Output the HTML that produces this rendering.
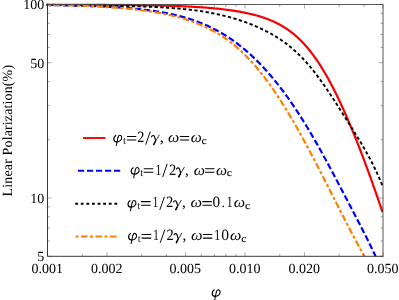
<!DOCTYPE html>
<html><head><meta charset="utf-8"><title>plot</title>
<style>
html,body{margin:0;padding:0;background:#fff;}
svg{display:block;will-change:transform;}
text{font-family:"Liberation Serif",serif;fill:#000;text-rendering:geometricPrecision;}
</style></head><body>
<svg width="399" height="300" viewBox="0 0 399 300">
<rect width="399" height="300" fill="#fff"/>
<defs><clipPath id="c"><rect x="46.4" y="3.6" width="336.6" height="252.7"/></clipPath></defs>

<g clip-path="url(#c)" fill="none" stroke-width="2.2">
<path d="M46.3 4.55 L47.5 4.55 L48.5 4.55 L49.5 4.55 L50.5 4.54 L51.5 4.54 L52.5 4.54 L53.5 4.54 L54.5 4.54 L55.5 4.54 L56.5 4.54 L57.5 4.54 L58.5 4.54 L59.5 4.54 L60.5 4.54 L61.5 4.54 L62.5 4.54 L63.5 4.54 L64.5 4.54 L65.5 4.54 L66.5 4.54 L67.5 4.55 L68.5 4.55 L69.5 4.55 L70.5 4.55 L71.5 4.55 L72.5 4.55 L73.5 4.56 L74.5 4.56 L75.5 4.56 L76.5 4.56 L77.5 4.57 L78.5 4.57 L79.5 4.57 L80.5 4.58 L81.5 4.58 L82.5 4.58 L83.5 4.59 L84.5 4.59 L85.5 4.59 L86.5 4.60 L87.5 4.60 L88.5 4.61 L89.5 4.61 L90.5 4.62 L91.5 4.62 L92.5 4.63 L93.5 4.63 L94.5 4.64 L95.5 4.64 L96.5 4.65 L97.5 4.66 L98.5 4.66 L99.5 4.67 L100.5 4.68 L101.5 4.68 L102.5 4.69 L103.5 4.70 L104.5 4.70 L105.5 4.71 L106.5 4.72 L107.5 4.73 L108.5 4.74 L109.5 4.74 L110.5 4.75 L111.5 4.76 L112.5 4.77 L113.5 4.78 L114.5 4.79 L115.5 4.80 L116.5 4.81 L117.5 4.82 L118.5 4.83 L119.5 4.84 L120.5 4.85 L121.5 4.86 L122.5 4.87 L123.5 4.88 L124.5 4.89 L125.5 4.91 L126.5 4.92 L127.5 4.93 L128.5 4.94 L129.5 4.96 L130.5 4.97 L131.5 4.98 L132.5 5.00 L133.5 5.01 L134.5 5.02 L135.5 5.04 L136.5 5.05 L137.5 5.07 L138.5 5.08 L139.5 5.10 L140.5 5.12 L141.5 5.13 L142.5 5.15 L143.5 5.17 L144.5 5.19 L145.5 5.20 L146.5 5.22 L147.5 5.24 L148.5 5.26 L149.5 5.28 L150.5 5.30 L151.5 5.32 L152.5 5.34 L153.5 5.36 L154.5 5.39 L155.5 5.41 L156.5 5.43 L157.5 5.46 L158.5 5.48 L159.5 5.50 L160.5 5.53 L161.5 5.55 L162.5 5.58 L163.5 5.61 L164.5 5.64 L165.5 5.66 L166.5 5.69 L167.5 5.72 L168.5 5.75 L169.5 5.78 L170.5 5.82 L171.5 5.85 L172.5 5.88 L173.5 5.91 L174.5 5.95 L175.5 5.99 L176.5 6.02 L177.5 6.06 L178.5 6.10 L179.5 6.14 L180.5 6.18 L181.5 6.22 L182.5 6.26 L183.5 6.30 L184.5 6.35 L185.5 6.39 L186.5 6.44 L187.5 6.49 L188.5 6.54 L189.5 6.59 L190.5 6.64 L191.5 6.69 L192.5 6.75 L193.5 6.80 L194.5 6.86 L195.5 6.92 L196.5 6.98 L197.5 7.04 L198.5 7.10 L199.5 7.17 L200.5 7.24 L201.5 7.31 L202.5 7.38 L203.5 7.45 L204.5 7.52 L205.5 7.60 L206.5 7.68 L207.5 7.76 L208.5 7.84 L209.5 7.92 L210.5 8.01 L211.5 8.10 L212.5 8.19 L213.5 8.28 L214.5 8.38 L215.5 8.48 L216.5 8.57 L217.5 8.68 L218.5 8.78 L219.5 8.89 L220.5 9.00 L221.5 9.11 L222.5 9.23 L223.5 9.34 L224.5 9.47 L225.5 9.59 L226.5 9.72 L227.5 9.85 L228.5 9.98 L229.5 10.12 L230.5 10.26 L231.5 10.40 L232.5 10.55 L233.5 10.70 L234.5 10.85 L235.5 11.01 L236.5 11.17 L237.5 11.34 L238.5 11.51 L239.5 11.69 L240.5 11.87 L241.5 12.05 L242.5 12.24 L243.5 12.44 L244.5 12.64 L245.5 12.84 L246.5 13.05 L247.5 13.27 L248.5 13.49 L249.5 13.72 L250.5 13.95 L251.5 14.19 L252.5 14.44 L253.5 14.69 L254.5 14.95 L255.5 15.21 L256.5 15.49 L257.5 15.77 L258.5 16.06 L259.5 16.36 L260.5 16.66 L261.5 16.98 L262.5 17.30 L263.5 17.63 L264.5 17.97 L265.5 18.32 L266.5 18.68 L267.5 19.06 L268.5 19.44 L269.5 19.84 L270.5 20.24 L271.5 20.66 L272.5 21.10 L273.5 21.54 L274.5 22.00 L275.5 22.47 L276.5 22.96 L277.5 23.47 L278.5 23.98 L279.5 24.52 L280.5 25.07 L281.5 25.64 L282.5 26.22 L283.5 26.83 L284.5 27.45 L285.5 28.09 L286.5 28.75 L287.5 29.43 L288.5 30.12 L289.5 30.84 L290.5 31.58 L291.5 32.35 L292.5 33.13 L293.5 33.94 L294.5 34.77 L295.5 35.62 L296.5 36.50 L297.5 37.40 L298.5 38.32 L299.5 39.27 L300.5 40.25 L301.5 41.25 L302.5 42.28 L303.5 43.34 L304.5 44.42 L305.5 45.54 L306.5 46.68 L307.5 47.84 L308.5 49.04 L309.5 50.27 L310.5 51.53 L311.5 52.81 L312.5 54.13 L313.5 55.48 L314.5 56.86 L315.5 58.26 L316.5 59.70 L317.5 61.17 L318.5 62.67 L319.5 64.20 L320.5 65.76 L321.5 67.35 L322.5 68.97 L323.5 70.62 L324.5 72.30 L325.5 74.01 L326.5 75.74 L327.5 77.51 L328.5 79.31 L329.5 81.14 L330.5 82.99 L331.5 84.88 L332.5 86.79 L333.5 88.73 L334.5 90.70 L335.5 92.70 L336.5 94.73 L337.5 96.78 L338.5 98.86 L339.5 100.97 L340.5 103.10 L341.5 105.26 L342.5 107.45 L343.5 109.66 L344.5 111.89 L345.5 114.15 L346.5 116.44 L347.5 118.74 L348.5 121.08 L349.5 123.43 L350.5 125.81 L351.5 128.21 L352.5 130.63 L353.5 133.07 L354.5 135.53 L355.5 138.02 L356.5 140.52 L357.5 143.05 L358.5 145.60 L359.5 148.17 L360.5 150.75 L361.5 153.36 L362.5 155.98 L363.5 158.63 L364.5 161.29 L365.5 163.97 L366.5 166.67 L367.5 169.39 L368.5 172.13 L369.5 174.88 L370.5 177.65 L371.5 180.43 L372.5 183.23 L373.5 186.05 L374.5 188.88 L375.5 191.73 L376.5 194.59 L377.5 197.47 L378.5 200.36 L379.5 203.26 L380.5 206.18 L381.5 209.12 L382.5 212.06" stroke="#f80000"/>
<path d="M46.3 4.98 L47.5 5.00 L48.5 5.02 L49.5 5.03 L50.5 5.05 L51.5 5.07 L52.5 5.09 L53.5 5.10 L54.5 5.12 L55.5 5.14 L56.5 5.16 L57.5 5.18 L58.5 5.20 L59.5 5.22 L60.5 5.24 L61.5 5.26 L62.5 5.28 L63.5 5.30 L64.5 5.32 L65.5 5.34 L66.5 5.36 L67.5 5.38 L68.5 5.41 L69.5 5.43 L70.5 5.45 L71.5 5.48 L72.5 5.50 L73.5 5.53 L74.5 5.55 L75.5 5.58 L76.5 5.60 L77.5 5.63 L78.5 5.66 L79.5 5.69 L80.5 5.72 L81.5 5.74 L82.5 5.77 L83.5 5.80 L84.5 5.83 L85.5 5.87 L86.5 5.90 L87.5 5.93 L88.5 5.96 L89.5 6.00 L90.5 6.03 L91.5 6.07 L92.5 6.11 L93.5 6.14 L94.5 6.18 L95.5 6.22 L96.5 6.26 L97.5 6.30 L98.5 6.34 L99.5 6.38 L100.5 6.43 L101.5 6.47 L102.5 6.52 L103.5 6.56 L104.5 6.61 L105.5 6.66 L106.5 6.71 L107.5 6.76 L108.5 6.81 L109.5 6.86 L110.5 6.92 L111.5 6.97 L112.5 7.03 L113.5 7.09 L114.5 7.15 L115.5 7.21 L116.5 7.27 L117.5 7.34 L118.5 7.40 L119.5 7.47 L120.5 7.54 L121.5 7.60 L122.5 7.68 L123.5 7.75 L124.5 7.82 L125.5 7.90 L126.5 7.98 L127.5 8.06 L128.5 8.14 L129.5 8.22 L130.5 8.31 L131.5 8.40 L132.5 8.49 L133.5 8.58 L134.5 8.67 L135.5 8.77 L136.5 8.87 L137.5 8.97 L138.5 9.07 L139.5 9.17 L140.5 9.28 L141.5 9.39 L142.5 9.50 L143.5 9.62 L144.5 9.74 L145.5 9.86 L146.5 9.98 L147.5 10.11 L148.5 10.24 L149.5 10.37 L150.5 10.50 L151.5 10.64 L152.5 10.78 L153.5 10.93 L154.5 11.07 L155.5 11.22 L156.5 11.38 L157.5 11.54 L158.5 11.70 L159.5 11.86 L160.5 12.03 L161.5 12.20 L162.5 12.38 L163.5 12.56 L164.5 12.75 L165.5 12.93 L166.5 13.13 L167.5 13.32 L168.5 13.52 L169.5 13.73 L170.5 13.94 L171.5 14.15 L172.5 14.37 L173.5 14.60 L174.5 14.83 L175.5 15.06 L176.5 15.30 L177.5 15.54 L178.5 15.79 L179.5 16.05 L180.5 16.31 L181.5 16.58 L182.5 16.85 L183.5 17.13 L184.5 17.41 L185.5 17.70 L186.5 17.99 L187.5 18.29 L188.5 18.60 L189.5 18.92 L190.5 19.24 L191.5 19.57 L192.5 19.90 L193.5 20.24 L194.5 20.59 L195.5 20.94 L196.5 21.31 L197.5 21.68 L198.5 22.05 L199.5 22.44 L200.5 22.83 L201.5 23.23 L202.5 23.64 L203.5 24.05 L204.5 24.48 L205.5 24.91 L206.5 25.35 L207.5 25.80 L208.5 26.26 L209.5 26.73 L210.5 27.20 L211.5 27.68 L212.5 28.18 L213.5 28.68 L214.5 29.19 L215.5 29.71 L216.5 30.24 L217.5 30.78 L218.5 31.33 L219.5 31.89 L220.5 32.46 L221.5 33.04 L222.5 33.63 L223.5 34.23 L224.5 34.84 L225.5 35.46 L226.5 36.09 L227.5 36.73 L228.5 37.38 L229.5 38.05 L230.5 38.72 L231.5 39.40 L232.5 40.10 L233.5 40.81 L234.5 41.52 L235.5 42.25 L236.5 43.00 L237.5 43.75 L238.5 44.51 L239.5 45.29 L240.5 46.08 L241.5 46.87 L242.5 47.69 L243.5 48.51 L244.5 49.34 L245.5 50.19 L246.5 51.05 L247.5 51.92 L248.5 52.81 L249.5 53.70 L250.5 54.61 L251.5 55.53 L252.5 56.47 L253.5 57.41 L254.5 58.37 L255.5 59.34 L256.5 60.32 L257.5 61.32 L258.5 62.33 L259.5 63.35 L260.5 64.38 L261.5 65.43 L262.5 66.49 L263.5 67.56 L264.5 68.65 L265.5 69.74 L266.5 70.85 L267.5 71.98 L268.5 73.11 L269.5 74.26 L270.5 75.43 L271.5 76.60 L272.5 77.79 L273.5 79.00 L274.5 80.21 L275.5 81.44 L276.5 82.68 L277.5 83.94 L278.5 85.21 L279.5 86.49 L280.5 87.79 L281.5 89.10 L282.5 90.42 L283.5 91.75 L284.5 93.10 L285.5 94.47 L286.5 95.84 L287.5 97.23 L288.5 98.63 L289.5 100.05 L290.5 101.48 L291.5 102.92 L292.5 104.38 L293.5 105.85 L294.5 107.33 L295.5 108.82 L296.5 110.33 L297.5 111.85 L298.5 113.39 L299.5 114.93 L300.5 116.49 L301.5 118.07 L302.5 119.65 L303.5 121.25 L304.5 122.86 L305.5 124.48 L306.5 126.12 L307.5 127.77 L308.5 129.43 L309.5 131.10 L310.5 132.79 L311.5 134.49 L312.5 136.20 L313.5 137.92 L314.5 139.65 L315.5 141.39 L316.5 143.15 L317.5 144.91 L318.5 146.68 L319.5 148.47 L320.5 150.26 L321.5 152.06 L322.5 153.87 L323.5 155.68 L324.5 157.51 L325.5 159.34 L326.5 161.18 L327.5 163.03 L328.5 164.88 L329.5 166.74 L330.5 168.60 L331.5 170.47 L332.5 172.35 L333.5 174.23 L334.5 176.11 L335.5 178.00 L336.5 179.89 L337.5 181.79 L338.5 183.69 L339.5 185.59 L340.5 187.49 L341.5 189.40 L342.5 191.31 L343.5 193.22 L344.5 195.13 L345.5 197.04 L346.5 198.95 L347.5 200.86 L348.5 202.77 L349.5 204.68 L350.5 206.59 L351.5 208.50 L352.5 210.41 L353.5 212.33 L354.5 214.24 L355.5 216.15 L356.5 218.07 L357.5 219.99 L358.5 221.92 L359.5 223.85 L360.5 225.79 L361.5 227.74 L362.5 229.69 L363.5 231.65 L364.5 233.62 L365.5 235.60 L366.5 237.59 L367.5 239.60 L368.5 241.61 L369.5 243.64 L370.5 245.68 L371.5 247.74 L372.5 249.81 L373.5 251.90 L374.5 254.00 L375.5 256.12 L376.5 258.20 L377.5 260.27" stroke="#0000ff" stroke-dasharray="6.2 2.8" stroke-dashoffset="1.1"/>
<path d="M46.3 4.55 L47.5 4.55 L48.5 4.58 L49.5 4.61 L50.5 4.64 L51.5 4.67 L52.5 4.70 L53.5 4.72 L54.5 4.75 L55.5 4.78 L56.5 4.80 L57.5 4.83 L58.5 4.85 L59.5 4.87 L60.5 4.90 L61.5 4.92 L62.5 4.94 L63.5 4.97 L64.5 4.99 L65.5 5.01 L66.5 5.03 L67.5 5.05 L68.5 5.07 L69.5 5.09 L70.5 5.11 L71.5 5.13 L72.5 5.15 L73.5 5.17 L74.5 5.19 L75.5 5.20 L76.5 5.22 L77.5 5.24 L78.5 5.26 L79.5 5.27 L80.5 5.29 L81.5 5.31 L82.5 5.32 L83.5 5.34 L84.5 5.36 L85.5 5.37 L86.5 5.39 L87.5 5.40 L88.5 5.42 L89.5 5.44 L90.5 5.45 L91.5 5.47 L92.5 5.48 L93.5 5.50 L94.5 5.51 L95.5 5.53 L96.5 5.54 L97.5 5.56 L98.5 5.57 L99.5 5.59 L100.5 5.60 L101.5 5.62 L102.5 5.63 L103.5 5.65 L104.5 5.66 L105.5 5.68 L106.5 5.69 L107.5 5.71 L108.5 5.73 L109.5 5.74 L110.5 5.76 L111.5 5.77 L112.5 5.79 L113.5 5.81 L114.5 5.83 L115.5 5.84 L116.5 5.86 L117.5 5.88 L118.5 5.90 L119.5 5.92 L120.5 5.94 L121.5 5.96 L122.5 5.98 L123.5 6.00 L124.5 6.02 L125.5 6.04 L126.5 6.06 L127.5 6.08 L128.5 6.11 L129.5 6.13 L130.5 6.15 L131.5 6.18 L132.5 6.20 L133.5 6.23 L134.5 6.26 L135.5 6.28 L136.5 6.31 L137.5 6.34 L138.5 6.37 L139.5 6.40 L140.5 6.43 L141.5 6.47 L142.5 6.50 L143.5 6.53 L144.5 6.57 L145.5 6.60 L146.5 6.64 L147.5 6.68 L148.5 6.72 L149.5 6.76 L150.5 6.80 L151.5 6.84 L152.5 6.88 L153.5 6.93 L154.5 6.97 L155.5 7.02 L156.5 7.07 L157.5 7.12 L158.5 7.17 L159.5 7.22 L160.5 7.28 L161.5 7.33 L162.5 7.39 L163.5 7.45 L164.5 7.51 L165.5 7.57 L166.5 7.63 L167.5 7.70 L168.5 7.76 L169.5 7.83 L170.5 7.90 L171.5 7.98 L172.5 8.05 L173.5 8.13 L174.5 8.20 L175.5 8.28 L176.5 8.37 L177.5 8.45 L178.5 8.54 L179.5 8.63 L180.5 8.72 L181.5 8.81 L182.5 8.91 L183.5 9.01 L184.5 9.11 L185.5 9.21 L186.5 9.32 L187.5 9.43 L188.5 9.54 L189.5 9.65 L190.5 9.77 L191.5 9.89 L192.5 10.02 L193.5 10.14 L194.5 10.27 L195.5 10.41 L196.5 10.54 L197.5 10.68 L198.5 10.82 L199.5 10.97 L200.5 11.12 L201.5 11.27 L202.5 11.43 L203.5 11.59 L204.5 11.76 L205.5 11.93 L206.5 12.10 L207.5 12.27 L208.5 12.45 L209.5 12.64 L210.5 12.82 L211.5 13.02 L212.5 13.21 L213.5 13.41 L214.5 13.61 L215.5 13.82 L216.5 14.03 L217.5 14.25 L218.5 14.47 L219.5 14.69 L220.5 14.92 L221.5 15.15 L222.5 15.39 L223.5 15.63 L224.5 15.88 L225.5 16.13 L226.5 16.39 L227.5 16.65 L228.5 16.91 L229.5 17.18 L230.5 17.46 L231.5 17.74 L232.5 18.02 L233.5 18.31 L234.5 18.61 L235.5 18.91 L236.5 19.22 L237.5 19.53 L238.5 19.84 L239.5 20.17 L240.5 20.50 L241.5 20.83 L242.5 21.17 L243.5 21.52 L244.5 21.87 L245.5 22.22 L246.5 22.59 L247.5 22.96 L248.5 23.34 L249.5 23.72 L250.5 24.11 L251.5 24.50 L252.5 24.91 L253.5 25.32 L254.5 25.73 L255.5 26.15 L256.5 26.58 L257.5 27.02 L258.5 27.47 L259.5 27.92 L260.5 28.38 L261.5 28.85 L262.5 29.32 L263.5 29.80 L264.5 30.29 L265.5 30.80 L266.5 31.30 L267.5 31.82 L268.5 32.35 L269.5 32.89 L270.5 33.44 L271.5 34.00 L272.5 34.57 L273.5 35.15 L274.5 35.75 L275.5 36.35 L276.5 36.97 L277.5 37.60 L278.5 38.24 L279.5 38.89 L280.5 39.56 L281.5 40.25 L282.5 40.94 L283.5 41.65 L284.5 42.38 L285.5 43.12 L286.5 43.87 L287.5 44.64 L288.5 45.42 L289.5 46.23 L290.5 47.04 L291.5 47.88 L292.5 48.73 L293.5 49.59 L294.5 50.48 L295.5 51.38 L296.5 52.30 L297.5 53.23 L298.5 54.19 L299.5 55.16 L300.5 56.16 L301.5 57.17 L302.5 58.20 L303.5 59.25 L304.5 60.32 L305.5 61.41 L306.5 62.52 L307.5 63.65 L308.5 64.80 L309.5 65.97 L310.5 67.16 L311.5 68.37 L312.5 69.61 L313.5 70.86 L314.5 72.13 L315.5 73.42 L316.5 74.73 L317.5 76.06 L318.5 77.40 L319.5 78.76 L320.5 80.14 L321.5 81.53 L322.5 82.94 L323.5 84.36 L324.5 85.79 L325.5 87.24 L326.5 88.70 L327.5 90.17 L328.5 91.66 L329.5 93.15 L330.5 94.66 L331.5 96.18 L332.5 97.70 L333.5 99.24 L334.5 100.78 L335.5 102.33 L336.5 103.88 L337.5 105.44 L338.5 107.01 L339.5 108.58 L340.5 110.16 L341.5 111.74 L342.5 113.32 L343.5 114.91 L344.5 116.50 L345.5 118.09 L346.5 119.68 L347.5 121.26 L348.5 122.85 L349.5 124.44 L350.5 126.03 L351.5 127.61 L352.5 129.19 L353.5 130.78 L354.5 132.37 L355.5 133.96 L356.5 135.57 L357.5 137.18 L358.5 138.80 L359.5 140.44 L360.5 142.09 L361.5 143.76 L362.5 145.44 L363.5 147.15 L364.5 148.88 L365.5 150.63 L366.5 152.41 L367.5 154.21 L368.5 156.04 L369.5 157.91 L370.5 159.81 L371.5 161.74 L372.5 163.70 L373.5 165.71 L374.5 167.75 L375.5 169.84 L376.5 171.97 L377.5 174.15 L378.5 176.37 L379.5 178.64 L380.5 180.96 L381.5 183.33 L382.5 185.76" stroke="#000000" stroke-dasharray="3.3 2.4" stroke-width="1.9"/>
<path d="M46.3 5.03 L47.5 5.04 L48.5 5.04 L49.5 5.04 L50.5 5.04 L51.5 5.04 L52.5 5.05 L53.5 5.05 L54.5 5.06 L55.5 5.07 L56.5 5.08 L57.5 5.09 L58.5 5.10 L59.5 5.11 L60.5 5.13 L61.5 5.14 L62.5 5.16 L63.5 5.17 L64.5 5.19 L65.5 5.21 L66.5 5.23 L67.5 5.25 L68.5 5.28 L69.5 5.30 L70.5 5.33 L71.5 5.35 L72.5 5.38 L73.5 5.41 L74.5 5.44 L75.5 5.47 L76.5 5.50 L77.5 5.53 L78.5 5.56 L79.5 5.60 L80.5 5.63 L81.5 5.67 L82.5 5.71 L83.5 5.75 L84.5 5.79 L85.5 5.83 L86.5 5.87 L87.5 5.91 L88.5 5.96 L89.5 6.00 L90.5 6.05 L91.5 6.10 L92.5 6.15 L93.5 6.20 L94.5 6.25 L95.5 6.30 L96.5 6.35 L97.5 6.41 L98.5 6.46 L99.5 6.52 L100.5 6.58 L101.5 6.64 L102.5 6.70 L103.5 6.76 L104.5 6.82 L105.5 6.89 L106.5 6.95 L107.5 7.02 L108.5 7.09 L109.5 7.16 L110.5 7.23 L111.5 7.30 L112.5 7.37 L113.5 7.45 L114.5 7.53 L115.5 7.60 L116.5 7.68 L117.5 7.76 L118.5 7.85 L119.5 7.93 L120.5 8.02 L121.5 8.10 L122.5 8.19 L123.5 8.28 L124.5 8.38 L125.5 8.47 L126.5 8.56 L127.5 8.66 L128.5 8.76 L129.5 8.86 L130.5 8.97 L131.5 9.07 L132.5 9.18 L133.5 9.29 L134.5 9.40 L135.5 9.51 L136.5 9.63 L137.5 9.75 L138.5 9.87 L139.5 9.99 L140.5 10.11 L141.5 10.24 L142.5 10.37 L143.5 10.50 L144.5 10.64 L145.5 10.77 L146.5 10.91 L147.5 11.06 L148.5 11.20 L149.5 11.35 L150.5 11.50 L151.5 11.66 L152.5 11.81 L153.5 11.97 L154.5 12.14 L155.5 12.31 L156.5 12.48 L157.5 12.65 L158.5 12.83 L159.5 13.01 L160.5 13.19 L161.5 13.38 L162.5 13.58 L163.5 13.77 L164.5 13.97 L165.5 14.18 L166.5 14.39 L167.5 14.60 L168.5 14.82 L169.5 15.04 L170.5 15.27 L171.5 15.50 L172.5 15.73 L173.5 15.97 L174.5 16.22 L175.5 16.47 L176.5 16.73 L177.5 16.99 L178.5 17.26 L179.5 17.53 L180.5 17.81 L181.5 18.09 L182.5 18.39 L183.5 18.68 L184.5 18.98 L185.5 19.29 L186.5 19.61 L187.5 19.93 L188.5 20.26 L189.5 20.60 L190.5 20.94 L191.5 21.29 L192.5 21.64 L193.5 22.01 L194.5 22.38 L195.5 22.76 L196.5 23.14 L197.5 23.54 L198.5 23.94 L199.5 24.35 L200.5 24.77 L201.5 25.20 L202.5 25.63 L203.5 26.08 L204.5 26.53 L205.5 27.00 L206.5 27.47 L207.5 27.95 L208.5 28.44 L209.5 28.95 L210.5 29.46 L211.5 29.98 L212.5 30.52 L213.5 31.06 L214.5 31.62 L215.5 32.19 L216.5 32.76 L217.5 33.36 L218.5 33.96 L219.5 34.57 L220.5 35.20 L221.5 35.84 L222.5 36.49 L223.5 37.16 L224.5 37.84 L225.5 38.53 L226.5 39.24 L227.5 39.96 L228.5 40.69 L229.5 41.44 L230.5 42.20 L231.5 42.97 L232.5 43.76 L233.5 44.57 L234.5 45.39 L235.5 46.22 L236.5 47.07 L237.5 47.94 L238.5 48.82 L239.5 49.71 L240.5 50.62 L241.5 51.55 L242.5 52.49 L243.5 53.45 L244.5 54.42 L245.5 55.41 L246.5 56.42 L247.5 57.44 L248.5 58.48 L249.5 59.54 L250.5 60.61 L251.5 61.70 L252.5 62.80 L253.5 63.93 L254.5 65.07 L255.5 66.22 L256.5 67.39 L257.5 68.58 L258.5 69.79 L259.5 71.01 L260.5 72.25 L261.5 73.51 L262.5 74.78 L263.5 76.07 L264.5 77.38 L265.5 78.70 L266.5 80.04 L267.5 81.40 L268.5 82.77 L269.5 84.16 L270.5 85.56 L271.5 86.98 L272.5 88.42 L273.5 89.87 L274.5 91.33 L275.5 92.81 L276.5 94.31 L277.5 95.82 L278.5 97.34 L279.5 98.88 L280.5 100.44 L281.5 102.00 L282.5 103.58 L283.5 105.18 L284.5 106.78 L285.5 108.40 L286.5 110.04 L287.5 111.69 L288.5 113.34 L289.5 115.02 L290.5 116.70 L291.5 118.40 L292.5 120.10 L293.5 121.82 L294.5 123.55 L295.5 125.30 L296.5 127.05 L297.5 128.81 L298.5 130.59 L299.5 132.37 L300.5 134.17 L301.5 135.97 L302.5 137.79 L303.5 139.61 L304.5 141.45 L305.5 143.29 L306.5 145.14 L307.5 147.00 L308.5 148.87 L309.5 150.75 L310.5 152.64 L311.5 154.53 L312.5 156.43 L313.5 158.34 L314.5 160.26 L315.5 162.18 L316.5 164.10 L317.5 166.04 L318.5 167.98 L319.5 169.92 L320.5 171.87 L321.5 173.82 L322.5 175.78 L323.5 177.73 L324.5 179.70 L325.5 181.66 L326.5 183.63 L327.5 185.60 L328.5 187.57 L329.5 189.54 L330.5 191.51 L331.5 193.49 L332.5 195.46 L333.5 197.43 L334.5 199.40 L335.5 201.38 L336.5 203.35 L337.5 205.31 L338.5 207.28 L339.5 209.25 L340.5 211.21 L341.5 213.17 L342.5 215.12 L343.5 217.07 L344.5 219.02 L345.5 220.96 L346.5 222.90 L347.5 224.84 L348.5 226.77 L349.5 228.69 L350.5 230.60 L351.5 232.52 L352.5 234.42 L353.5 236.32 L354.5 238.21 L355.5 240.09 L356.5 241.96 L357.5 243.83 L358.5 245.69 L359.5 247.54 L360.5 249.38 L361.5 251.21 L362.5 253.03 L363.5 254.84 L364.5 256.70 L365.5 258.80 L366.5 260.89" stroke="#ff8000" stroke-dasharray="6.6 2.45 3 2.45" stroke-dashoffset="7.5"/>
</g>
<path d="M47.5 4.50h4 M383.0 4.50h-4 M47.5 62.76h4 M383.0 62.76h-4 M47.5 198.04h4 M383.0 198.04h-4 M47.5 256.30h4 M383.0 256.30h-4 M47.5 13.36h2.5 M383.0 13.36h-2.5 M47.5 23.26h2.5 M383.0 23.26h-2.5 M47.5 34.48h2.5 M383.0 34.48h-2.5 M47.5 47.44h2.5 M383.0 47.44h-2.5 M47.5 81.52h2.5 M383.0 81.52h-2.5 M47.5 105.70h2.5 M383.0 105.70h-2.5 M47.5 139.78h2.5 M383.0 139.78h-2.5 M47.5 206.89h2.5 M383.0 206.89h-2.5 M47.5 216.79h2.5 M383.0 216.79h-2.5 M47.5 228.02h2.5 M383.0 228.02h-2.5 M47.5 240.98h2.5 M383.0 240.98h-2.5 M47.50 256.3v-4 M47.50 4.5v4 M106.95 256.3v-4 M106.95 4.5v4 M185.55 256.3v-4 M185.55 4.5v4 M245.00 256.3v-4 M245.00 4.5v4 M304.45 256.3v-4 M304.45 4.5v4 M383.05 256.3v-4 M383.05 4.5v4 M82.28 256.3v-2.5 M82.28 4.5v2.5 M141.73 256.3v-2.5 M141.73 4.5v2.5 M166.41 256.3v-2.5 M166.41 4.5v2.5 M201.18 256.3v-2.5 M201.18 4.5v2.5 M214.41 256.3v-2.5 M214.41 4.5v2.5 M225.86 256.3v-2.5 M225.86 4.5v2.5 M235.96 256.3v-2.5 M235.96 4.5v2.5 M279.78 256.3v-2.5 M279.78 4.5v2.5 M339.23 256.3v-2.5 M339.23 4.5v2.5 M363.91 256.3v-2.5 M363.91 4.5v2.5" stroke="#555" stroke-width="0.5" fill="none"/>
<path d="M47.5 4.5 H383.0 V256.3" stroke="#444" stroke-width="0.9" fill="none"/>
<path d="M47.5 4.1 V256.3 H383.4" stroke="#222" stroke-width="0.9" fill="none"/>
<g>
<g font-size="14">
<text x="44.2" y="9.4" text-anchor="end">100</text>
<text x="44.2" y="67.7" text-anchor="end">50</text>
<text x="44.2" y="202.9" text-anchor="end">10</text>
<text x="44.2" y="261.2" text-anchor="end">5</text>
<text x="47.2" y="272.6" text-anchor="middle">0.001</text>
<text x="106.7" y="272.6" text-anchor="middle">0.002</text>
<text x="185.2" y="272.6" text-anchor="middle">0.005</text>
<text x="244.7" y="272.6" text-anchor="middle">0.010</text>
<text x="304.2" y="272.6" text-anchor="middle">0.020</text>
<text x="382.7" y="272.6" text-anchor="middle">0.050</text>
</g>
<text font-size="14" transform="translate(11.6,196.4) rotate(-90)" textLength="131.5" lengthAdjust="spacing">Linear Polarization(%)</text>
<g fill="none" stroke-width="1.9">
<path d="M82.9 138.0H105.4" stroke="#f80000"/>
<path d="M78.0 170.8H120.2" stroke="#0000ff" stroke-dasharray="6.2 2.8"/>
<path d="M75.2 203.7H117.4" stroke="#000" stroke-dasharray="2.8 2.8"/>
<path d="M75.6 236.5H117.0" stroke="#ff8000" stroke-dasharray="6.6 2.4 3 2.4" stroke-dashoffset="9"/>
</g>
<g transform="translate(98.40,154.60)" fill="none" stroke="#000" stroke-linecap="round" stroke-linejoin="round"><path d="M115.7 135.3C114.3 136.3 113.75 137.6 113.8 138.8C113.9 140.6 115.1 141.75 116.9 141.75" stroke-width="1.2"/><path d="M116.9 141.75C119.5 141.75 121.7 139.8 121.75 137.7C121.8 136.0 120.8 135.05 119.7 135.05C118.6 135.05 118.2 136.0 117.9 137.5" stroke-width="1.05"/><path d="M117.9 137.5L116.3 145.3" stroke-width="1.0"/></g>
<g transform="translate(0.00,0.20)" fill="none" stroke="#000" stroke-linecap="round" stroke-linejoin="round"><path d="M115.7 135.3C114.3 136.3 113.75 137.6 113.8 138.8C113.9 140.6 115.1 141.75 116.9 141.75" stroke-width="1.2"/><path d="M116.9 141.75C119.5 141.75 121.7 139.8 121.75 137.7C121.8 136.0 120.8 135.05 119.7 135.05C118.6 135.05 118.2 136.0 117.9 137.5" stroke-width="1.05"/><path d="M117.9 137.5L116.3 145.3" stroke-width="1.0"/></g>
<text stroke="#000" stroke-width="0.12" transform="translate(123.22,143.60) scale(0.799,1)" font-size="10.5">t</text>
<path d="M126.90 136.40H136.30 M126.90 140.00H136.30" stroke="#000" stroke-width="1.05" fill="none"/>
<text transform="translate(137.33,142.20) scale(0.906,1)" font-size="15.7">2</text>
<path d="M145.70 144.70L150.30 131.50" stroke="#000" stroke-width="0.95" fill="none"/>
<g transform="translate(151.20,142.20)" fill="none" stroke="#000" stroke-linecap="round"><path d="M0.3 -5.5C0.9 -6.9 2.5 -7.2 3.2 -5.6C3.8 -4.2 4.2 -2.7 4.5 -1.2" stroke-width="1.15"/><path d="M8.0 -7.1C6.8 -4.7 5.3 -2.7 4.4 -1.2C3.4 0.6 2.9 1.5 2.6 2.4" stroke-width="0.85"/><path d="M3.9 -0.3L2.6 2.3" stroke-width="1.5"/></g>
<text transform="translate(159.71,142.20) scale(1.069,1)" font-size="15.7">,</text>
<text transform="translate(168.02,142.20) scale(1.060,1)" font-size="15" font-style="italic">&#969;</text>
<path d="M179.90 136.40H189.10 M179.90 140.00H189.10" stroke="#000" stroke-width="1.05" fill="none"/>
<text transform="translate(190.63,142.20) scale(1.039,1)" font-size="15" font-style="italic">&#969;</text>
<text stroke="#000" stroke-width="0.12" transform="translate(201.45,143.60) scale(1.117,1)" font-size="10.5">c</text>
<g transform="translate(17.40,32.50)" fill="none" stroke="#000" stroke-linecap="round" stroke-linejoin="round"><path d="M115.7 135.3C114.3 136.3 113.75 137.6 113.8 138.8C113.9 140.6 115.1 141.75 116.9 141.75" stroke-width="1.2"/><path d="M116.9 141.75C119.5 141.75 121.7 139.8 121.75 137.7C121.8 136.0 120.8 135.05 119.7 135.05C118.6 135.05 118.2 136.0 117.9 137.5" stroke-width="1.05"/><path d="M117.9 137.5L116.3 145.3" stroke-width="1.0"/></g>
<text stroke="#000" stroke-width="0.12" transform="translate(140.62,175.90) scale(0.799,1)" font-size="10.5">t</text>
<path d="M143.70 168.70H153.30 M143.70 172.30H153.30" stroke="#000" stroke-width="1.05" fill="none"/>
<text transform="translate(155.43,174.50) scale(0.742,1)" font-size="15.7">1</text>
<path d="M162.70 177.00L167.20 163.80" stroke="#000" stroke-width="0.95" fill="none"/>
<text transform="translate(168.91,174.50) scale(0.922,1)" font-size="15.7">2</text>
<g transform="translate(176.20,174.50)" fill="none" stroke="#000" stroke-linecap="round"><path d="M0.3 -5.5C0.9 -6.9 2.5 -7.2 3.2 -5.6C3.8 -4.2 4.2 -2.7 4.5 -1.2" stroke-width="1.15"/><path d="M8.0 -7.1C6.8 -4.7 5.3 -2.7 4.4 -1.2C3.4 0.6 2.9 1.5 2.6 2.4" stroke-width="0.85"/><path d="M3.9 -0.3L2.6 2.3" stroke-width="1.5"/></g>
<text transform="translate(184.96,174.50) scale(0.984,1)" font-size="15.7">,</text>
<text transform="translate(193.72,174.50) scale(1.060,1)" font-size="15" font-style="italic">&#969;</text>
<path d="M205.10 168.70H214.40 M205.10 172.30H214.40" stroke="#000" stroke-width="1.05" fill="none"/>
<text transform="translate(215.93,174.50) scale(1.039,1)" font-size="15" font-style="italic">&#969;</text>
<text stroke="#000" stroke-width="0.12" transform="translate(226.75,175.90) scale(1.117,1)" font-size="10.5">c</text>
<g transform="translate(14.20,65.40)" fill="none" stroke="#000" stroke-linecap="round" stroke-linejoin="round"><path d="M115.7 135.3C114.3 136.3 113.75 137.6 113.8 138.8C113.9 140.6 115.1 141.75 116.9 141.75" stroke-width="1.2"/><path d="M116.9 141.75C119.5 141.75 121.7 139.8 121.75 137.7C121.8 136.0 120.8 135.05 119.7 135.05C118.6 135.05 118.2 136.0 117.9 137.5" stroke-width="1.05"/><path d="M117.9 137.5L116.3 145.3" stroke-width="1.0"/></g>
<text stroke="#000" stroke-width="0.12" transform="translate(137.42,208.80) scale(0.799,1)" font-size="10.5">t</text>
<path d="M141.00 201.60H150.60 M141.00 205.20H150.60" stroke="#000" stroke-width="1.05" fill="none"/>
<text transform="translate(152.68,207.40) scale(0.706,1)" font-size="15.7">1</text>
<path d="M159.80 209.90L164.50 196.70" stroke="#000" stroke-width="0.95" fill="none"/>
<text transform="translate(165.91,207.40) scale(0.922,1)" font-size="15.7">2</text>
<g transform="translate(173.20,207.40)" fill="none" stroke="#000" stroke-linecap="round"><path d="M0.3 -5.5C0.9 -6.9 2.5 -7.2 3.2 -5.6C3.8 -4.2 4.2 -2.7 4.5 -1.2" stroke-width="1.15"/><path d="M8.0 -7.1C6.8 -4.7 5.3 -2.7 4.4 -1.2C3.4 0.6 2.9 1.5 2.6 2.4" stroke-width="0.85"/><path d="M3.9 -0.3L2.6 2.3" stroke-width="1.5"/></g>
<text transform="translate(181.96,207.40) scale(0.984,1)" font-size="15.7">,</text>
<text transform="translate(190.51,207.40) scale(1.092,1)" font-size="15" font-style="italic">&#969;</text>
<path d="M202.40 201.60H211.80 M202.40 205.20H211.80" stroke="#000" stroke-width="1.05" fill="none"/>
<text transform="translate(212.57,207.40) scale(0.977,1)" font-size="15.7">0</text>
<text transform="translate(221.77,207.40) scale(0.755,1)" font-size="15.7">.</text>
<text transform="translate(226.63,207.40) scale(0.742,1)" font-size="15.7">1</text>
<text transform="translate(233.72,207.40) scale(1.071,1)" font-size="15" font-style="italic">&#969;</text>
<text stroke="#000" stroke-width="0.12" transform="translate(245.04,208.80) scale(1.143,1)" font-size="10.5">c</text>
<g transform="translate(14.80,98.30)" fill="none" stroke="#000" stroke-linecap="round" stroke-linejoin="round"><path d="M115.7 135.3C114.3 136.3 113.75 137.6 113.8 138.8C113.9 140.6 115.1 141.75 116.9 141.75" stroke-width="1.2"/><path d="M116.9 141.75C119.5 141.75 121.7 139.8 121.75 137.7C121.8 136.0 120.8 135.05 119.7 135.05C118.6 135.05 118.2 136.0 117.9 137.5" stroke-width="1.05"/><path d="M117.9 137.5L116.3 145.3" stroke-width="1.0"/></g>
<text stroke="#000" stroke-width="0.12" transform="translate(138.02,241.70) scale(0.799,1)" font-size="10.5">t</text>
<path d="M141.60 234.50H151.20 M141.60 238.10H151.20" stroke="#000" stroke-width="1.05" fill="none"/>
<text transform="translate(153.28,240.30) scale(0.706,1)" font-size="15.7">1</text>
<path d="M160.20 242.80L164.90 229.60" stroke="#000" stroke-width="0.95" fill="none"/>
<text transform="translate(166.41,240.30) scale(0.922,1)" font-size="15.7">2</text>
<g transform="translate(173.80,240.30)" fill="none" stroke="#000" stroke-linecap="round"><path d="M0.3 -5.5C0.9 -6.9 2.5 -7.2 3.2 -5.6C3.8 -4.2 4.2 -2.7 4.5 -1.2" stroke-width="1.15"/><path d="M8.0 -7.1C6.8 -4.7 5.3 -2.7 4.4 -1.2C3.4 0.6 2.9 1.5 2.6 2.4" stroke-width="0.85"/><path d="M3.9 -0.3L2.6 2.3" stroke-width="1.5"/></g>
<text transform="translate(182.56,240.30) scale(0.984,1)" font-size="15.7">,</text>
<text transform="translate(191.11,240.30) scale(1.092,1)" font-size="15" font-style="italic">&#969;</text>
<path d="M202.90 234.50H212.30 M202.90 238.10H212.30" stroke="#000" stroke-width="1.05" fill="none"/>
<text transform="translate(214.30,240.30) scale(0.760,1)" font-size="15.7">1</text>
<text transform="translate(221.26,240.30) scale(0.992,1)" font-size="15.7">0</text>
<text transform="translate(229.92,240.30) scale(1.071,1)" font-size="15" font-style="italic">&#969;</text>
<text stroke="#000" stroke-width="0.12" transform="translate(241.25,241.70) scale(1.117,1)" font-size="10.5">c</text>
</g>
</svg></body></html>
